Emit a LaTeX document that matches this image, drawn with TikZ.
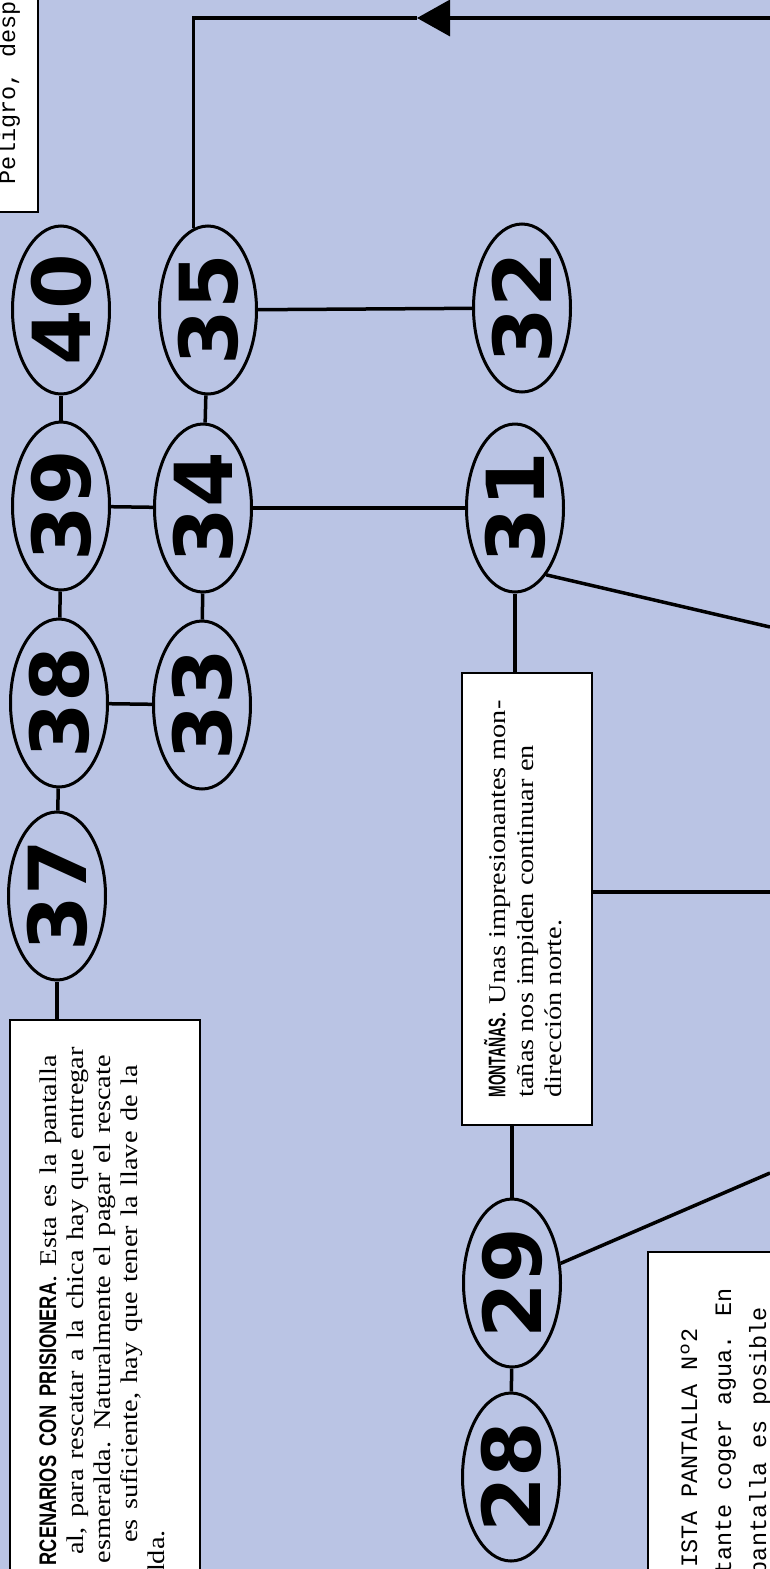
\documentclass[tikz,border=0pt]{standalone}
\usepackage{fontspec}
\usetikzlibrary{shapes.geometric,arrows.meta}
\setmainfont{Liberation Serif}[FakeStretch=1.18]
\newfontfamily\capfont{Liberation Sans}[FakeStretch=0.58]
\newfontfamily\capwidefont{Liberation Sans}[FakeStretch=0.76]
\newfontfamily\typefont{Liberation Mono}
\newfontfamily\numfont{DejaVu Sans}
\definecolor{paper}{RGB}{186,196,228}
\newcommand\vtxt[1]{\rotatebox{90}{#1}}
\newcommand\caps[1]{{\capfont\bfseries #1}}
\newcommand\widecaps[1]{{\capwidefont\bfseries #1}}
\newcommand\widespace{\spaceskip=9.5pt\relax}

\begin{document}
\begin{tikzpicture}[x=1pt,y=-1pt,
  numnode/.style={ellipse,draw,line width=3pt,minimum width=97pt,minimum height=168pt,inner sep=0pt,font=\numfont\bfseries\fontsize{80}{80}\selectfont},
  textbox/.style={draw,fill=white,line width=2pt,inner sep=0pt},
  boxline/.style={rotate=90,anchor=base east,inner sep=0pt,font=\fontsize{24}{28}\selectfont\widespace},
  typeline/.style={rotate=90,anchor=base east,inner sep=0pt,font=\typefont\fontsize{23.5}{28}\selectfont},
  link/.style={line width=3.5pt}]
\useasboundingbox (0,0) rectangle (770,1569);
\clip (0,0) rectangle (770,1569);
\fill[paper] (0,0) rectangle (770,1569);
\foreach \n/\x/\y in {40/61/310,39/61/506,38/59/703,37/57/896,35/208/310,34/203/508,33/202/705,32/522/308,31/515/508,29/512/1283,28/511/1477}
  \node[numnode] (n\n) at (\x,\y) {\vtxt{\n}};
\node[textbox,minimum width=130pt,minimum height=452pt,font=\fontsize{24}{28}\selectfont] (montanas) at (527,899)
  {\vtxt{\begin{tabular}{@{}l@{}}\caps{MONTAÑAS}. Unas impresionantes mon-\\tañas nos impiden continuar en\\dirección norte.\end{tabular}}};
\node[textbox,minimum width=190pt,minimum height=600pt] (box37) at (105,1320) {};
\foreach \x/\y/\t in {56/1055/{\widecaps{RCENARIOS CON PRISIONERA}. Esta es la pantalla},83/1047/{al, para rescatar a la chica hay que entregar},110/1055/{a esmeralda. Naturalmente el pagar el rescate},137/1065/{es suficiente, hay que tener la llave de la},164/1530/{lda.}}
  \node[boxline] (l37-\x) at (\x,\y) {\t};
\node[textbox,minimum width=200pt,minimum height=400pt] (box2) at (748,1452) {};
\foreach \x/\y/\t in {697/1328/{ISTA PANTALLA Nº2},731/1288/{tante coger agua. En},766/1307/{pantalla es posible}}
  \node[typeline] (l2-\x) at (\x,\y) {\t};
\node[textbox,minimum width=200pt,minimum height=264pt] (box0) at (-62,80) {};
\node[typeline,anchor=base west] (peligro) at (15,185) {Peligro, desp};
\coordinate (topin) at (770,18); \coordinate (arrowtip) at (417,18);
\coordinate (out31) at (770,627); \coordinate (outbox) at (770,892); \coordinate (out29) at (770,1173);
\foreach \a/\b in {40/39,39/38,38/37,39/34,38/33,35/34,34/33,35/32,34/31,28/29}
  \draw[link] (n\a) -- (n\b);
\draw[link] (n37) -- (n37 |- box37.north);
\draw[link] (n31) -- (n31 |- montanas.north);
\draw[link] (montanas.south -| n29) -- (n29);
\draw[link] (montanas.east |- outbox) -- (outbox);
\draw[link] (n31.-65) -- (out31);
\draw[link] (n29.22) -- (out29);
\draw[link,-{Triangle[length=33pt,width=36pt]}] (topin) -- (arrowtip);
\draw[link] (arrowtip) -| (n35.100);
\end{tikzpicture}
\end{document}
